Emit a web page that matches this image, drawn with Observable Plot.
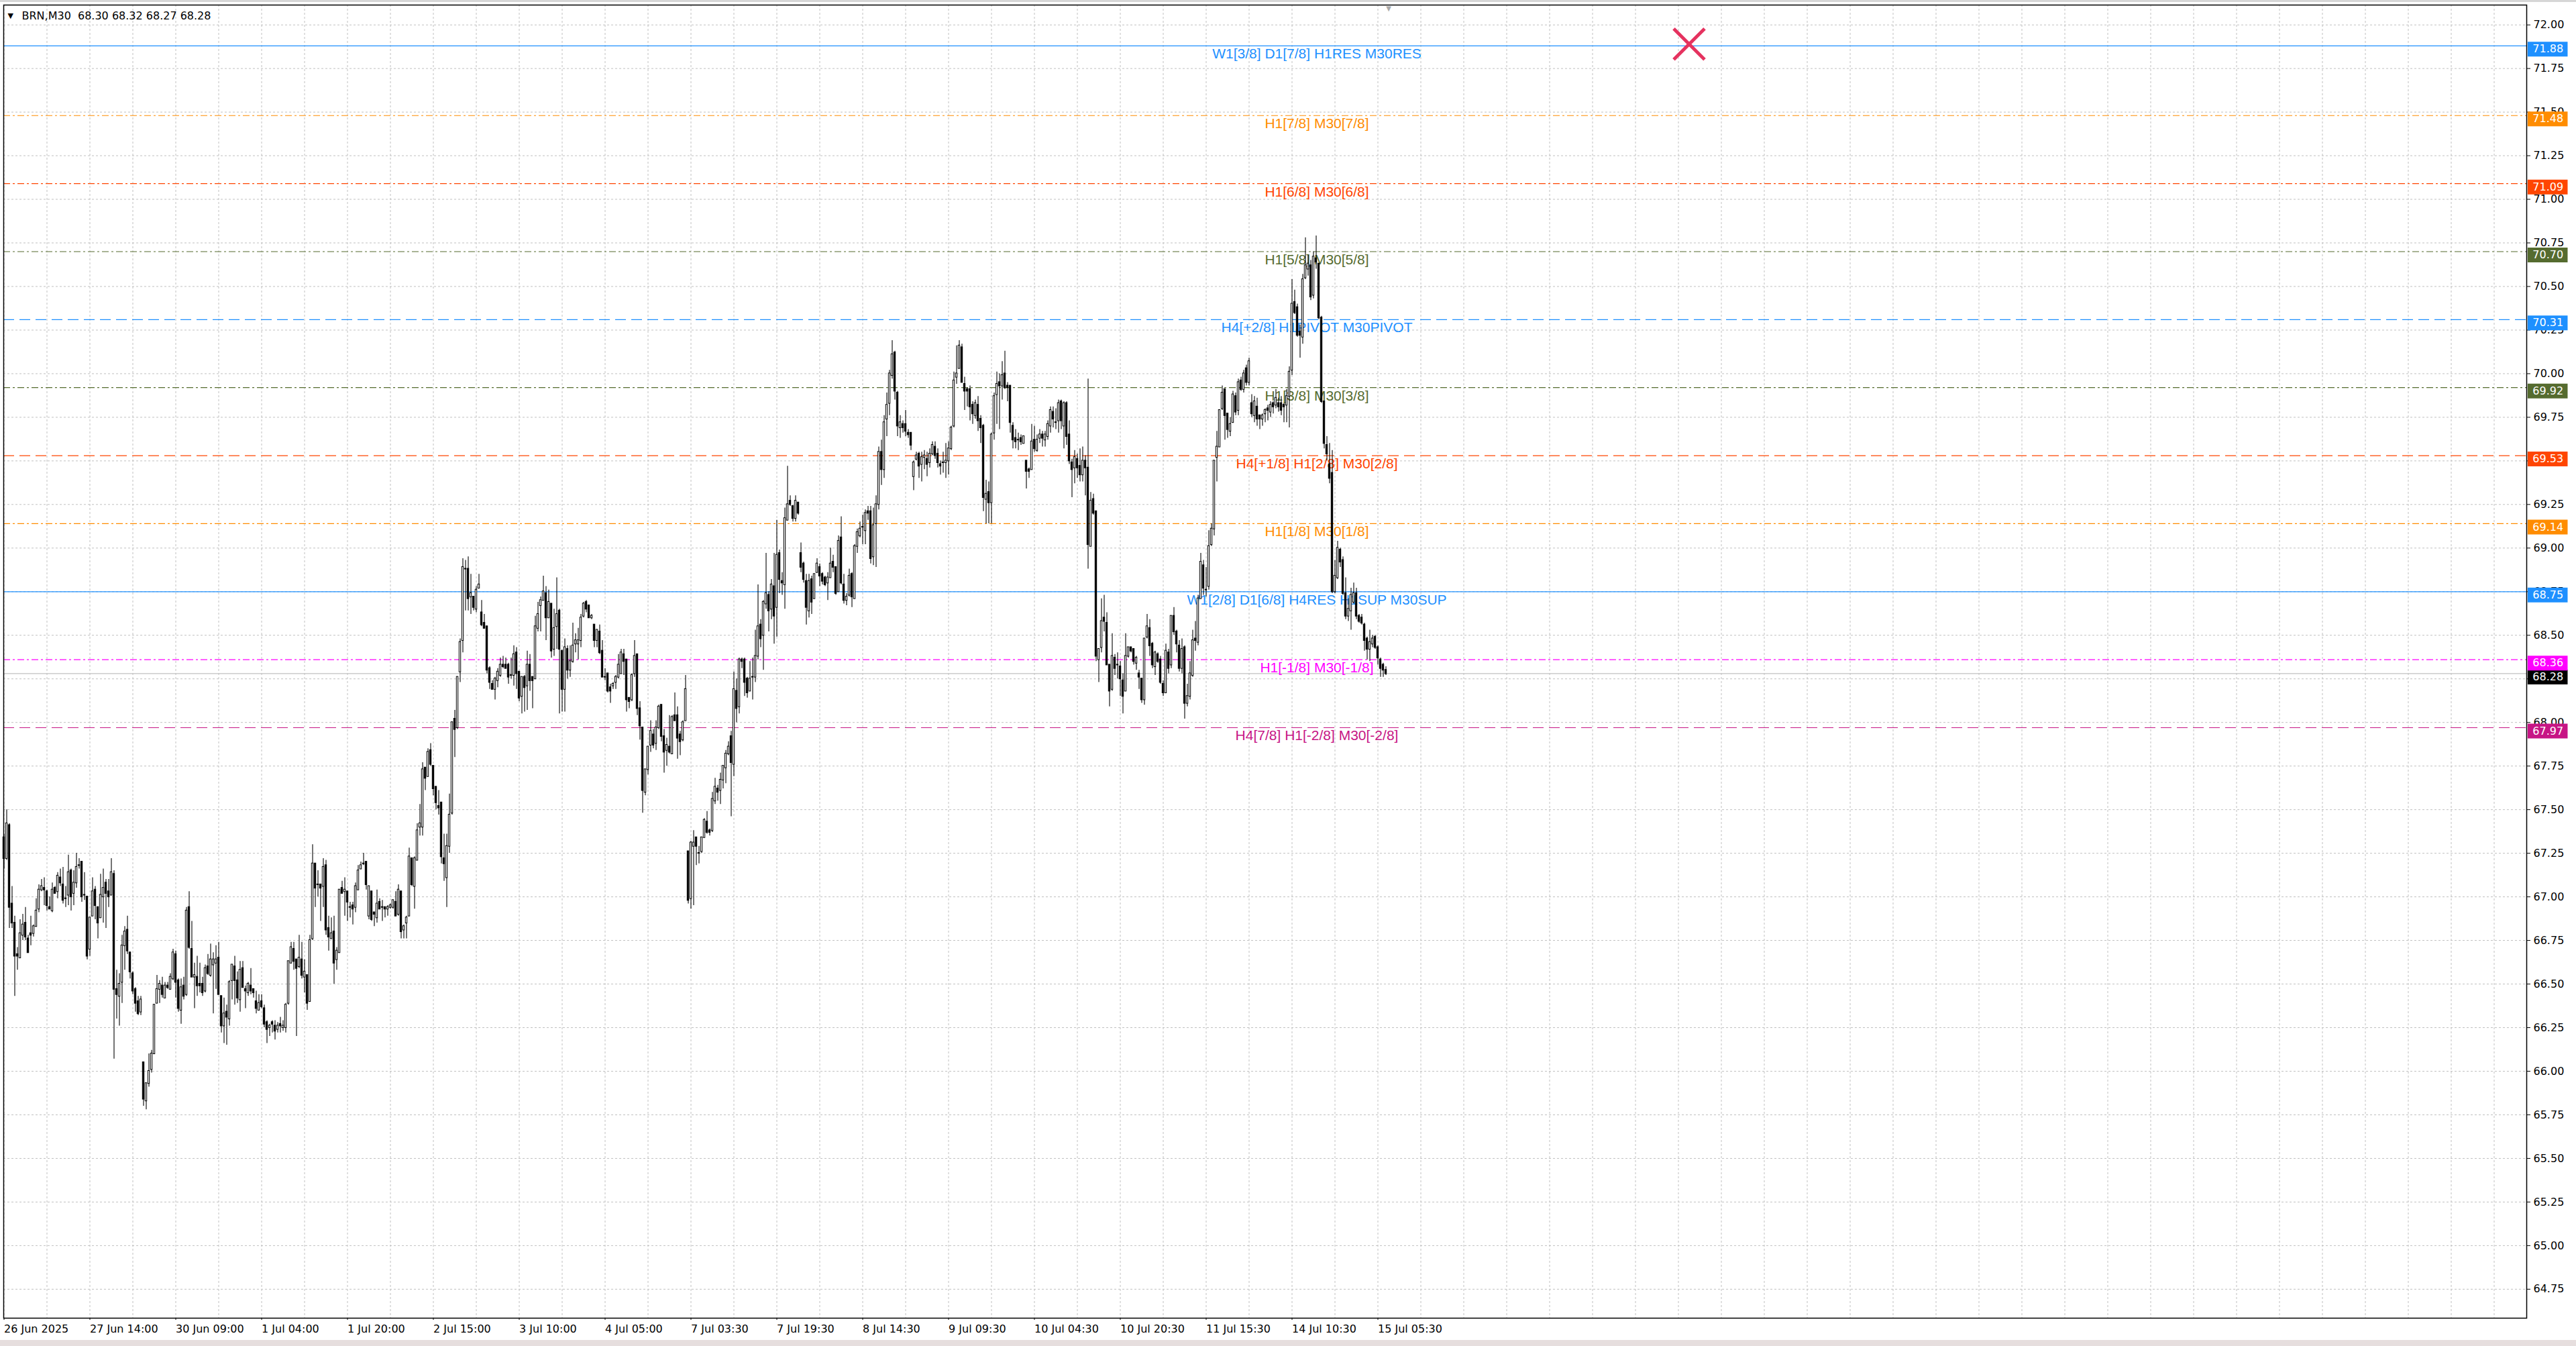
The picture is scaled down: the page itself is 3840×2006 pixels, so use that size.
<!DOCTYPE html>
<html lang="en">
<head>
<meta charset="UTF-8">
<title>BRN,M30</title>
<script src="https://cdn.jsdelivr.net/npm/d3@7"></script>
<script src="https://cdn.jsdelivr.net/npm/@observablehq/plot@0.6"></script>
<style>
  html, body { margin: 0; padding: 0; background: #fff; overflow: hidden; }
  #topbar { height: 3px; background: #d6d6d6; }
  #bottombar { height: 9px; background: #e6dede; }
  #chart svg { display: block; }
</style>
</head>
<body>
<div id="topbar"></div>
<div id="chart"></div>
<div id="bottombar"></div>
<script>
// BRN M30 bars (bar 0 = 26 Jun, bar 515 = 15 Jul 05:30)
const symbol = "BRN,M30";

const open = [
  67.34,67.22,67.41,66.96,66.85,66.67,66.65,66.78,66.85,66.76, // 0
  66.79,66.79,66.83,66.93,67.04,67.05,67.03,66.94,66.92,67.05,
  67.03,67.11,67.07,66.99,67.01,67.15,67.02,67.08,67.18,67.20,
  67.01,67.00,66.70,66.89,67.04,66.94,66.88,67.00,67.08,67.03,
  67.01,67.13,66.47,66.43,66.51,66.72,66.81,66.68,66.56,66.47,
  66.40,66.34,66.05,65.83,65.93,66.01,66.10,66.39,66.47,66.49, // 50
  66.42,66.49,66.47,66.53,66.67,66.52,66.35,66.49,66.44,66.94,
  66.70,66.54,66.54,66.50,66.50,66.46,66.60,66.55,66.61,66.62,
  66.65,66.43,66.26,66.34,66.30,66.52,66.60,66.52,66.41,66.59,
  66.47,66.45,66.49,66.47,66.40,66.35,66.40,66.36,66.28,66.25,
  66.28,66.26,66.24,66.27,66.25,66.25,66.39,66.62,66.70,66.64, // 100
  66.60,66.64,66.54,66.55,66.40,66.76,67.19,67.07,67.07,67.06,
  67.18,66.82,66.76,66.80,66.64,66.68,67.05,67.03,67.03,66.94,
  66.95,66.94,67.04,67.16,67.19,67.20,66.89,67.03,66.91,66.88,
  66.97,66.94,66.94,66.93,66.94,66.94,66.97,66.90,67.03,66.81,
  66.85,66.89,67.22,67.06,67.21,67.40,67.40,67.74,67.69,67.84, // 150
  67.75,67.63,67.52,67.54,67.22,67.11,67.29,67.48,68.02,67.97,
  68.29,68.47,68.88,68.88,68.72,68.72,68.65,68.77,68.63,68.57,
  68.55,68.31,68.22,68.19,68.24,68.27,68.33,68.33,68.33,68.27,
  68.27,68.40,68.29,68.15,68.26,68.21,68.33,68.26,68.25,68.54,
  68.67,68.70,68.74,68.60,68.68,68.42,68.55,68.64,68.41,68.19, // 200
  68.42,68.30,68.35,68.45,68.45,68.47,68.61,68.69,68.67,68.60,
  68.56,68.47,68.52,68.41,68.26,68.28,68.20,68.21,68.23,68.26,
  68.28,68.39,68.36,68.14,68.13,68.28,68.39,68.08,67.97,67.60,
  67.73,67.87,67.93,67.88,67.97,68.10,67.92,67.84,67.86,67.82,
  68.04,68.04,67.93,67.90,68.01,67.26,66.99,67.29,67.34,67.25, // 250
  67.26,67.34,67.43,67.38,67.38,67.55,67.62,67.61,67.67,67.74,
  67.82,67.92,67.76,68.18,68.09,68.36,68.36,68.25,68.18,68.26,
  68.26,68.38,68.56,68.50,68.68,68.73,68.65,68.78,68.66,68.97,
  68.81,68.79,69.16,69.27,69.24,69.17,69.26,68.97,68.91,68.81,
  68.64,68.82,68.71,68.86,68.89,68.85,68.83,68.80,68.83,68.92, // 300
  68.89,68.75,69.06,68.79,68.70,68.73,68.85,68.71,69.01,69.07,
  69.12,69.10,69.21,69.21,68.95,69.14,69.25,69.55,69.45,69.74,
  69.83,69.99,70.12,69.89,69.69,69.71,69.71,69.66,69.66,69.41,
  69.51,69.54,69.48,69.52,69.51,69.49,69.54,69.58,69.54,69.48,
  69.49,69.49,69.50,69.57,69.70,69.98,70.03,70.15,69.94,69.91, // 350
  69.91,69.82,69.76,69.82,69.74,69.70,69.28,69.32,69.26,69.66,
  69.88,69.95,69.93,70.00,69.93,69.93,69.70,69.63,69.62,69.63,
  69.60,69.50,69.45,69.45,69.62,69.56,69.63,69.65,69.62,69.64,
  69.70,69.78,69.72,69.73,69.84,69.70,69.83,69.65,69.49,69.46,
  69.51,69.47,69.42,69.50,69.46,69.01,69.28,69.21,68.36,68.43, // 400
  68.60,68.57,68.33,68.19,68.37,68.33,68.32,68.24,68.18,68.38,
  68.43,68.42,68.34,68.28,68.25,68.13,68.49,68.54,68.45,68.32,
  68.39,68.36,68.22,68.17,68.40,68.33,68.61,68.52,68.44,68.31,
  68.43,68.11,68.15,68.27,68.48,68.46,68.71,68.90,68.76,68.78,
  69.02,69.11,69.52,69.58,69.80,69.91,69.77,69.67,69.72,69.87, // 450
  69.79,69.96,69.91,70.03,69.95,69.83,69.76,69.81,69.76,69.74,
  69.77,69.80,69.78,69.83,69.82,69.83,69.83,69.82,69.82,69.87,
  70.02,70.41,70.38,70.24,70.21,70.55,70.60,70.62,70.45,70.66,
  70.63,70.32,69.84,69.59,69.48,69.43,68.75,68.83,68.99,68.93,
  68.74,68.61,68.64,68.69,68.74,68.61,68.60,68.56,68.48,68.42, // 500
  68.45,68.49,68.43,68.36,68.33,68.30
];

const high = [
  67.36,67.50,67.42,67.06,66.89,66.71,66.87,66.90,66.94,66.78,
  66.89,66.84,66.99,67.07,67.10,67.11,67.04,67.00,67.08,67.06,
  67.14,67.16,67.17,67.06,67.24,67.16,67.15,67.25,67.22,67.20,
  67.14,67.00,66.88,67.11,67.06,66.94,67.13,67.16,67.10,67.10,
  67.22,67.15,66.58,66.56,66.78,66.83,66.89,66.68,66.57,66.48,
  66.43,66.43,66.05,65.93,66.10,66.12,66.38,66.55,66.52,66.54,
  66.51,66.51,66.56,66.70,66.69,66.53,66.53,66.54,66.94,67.03,
  66.86,66.62,66.66,66.62,66.54,66.61,66.67,66.73,66.68,66.72,
  66.74,66.43,66.42,66.38,66.52,66.61,66.66,66.57,66.63,66.63,
  66.49,66.51,66.59,66.47,66.46,66.44,66.44,66.38,66.29,66.27,
  66.29,66.29,66.28,66.31,66.29,66.39,66.63,66.74,66.74,66.64,
  66.78,66.74,66.64,66.55,66.78,67.30,67.19,67.15,67.07,67.22,
  67.21,66.89,66.88,66.89,66.71,67.04,67.09,67.11,67.03,66.97,
  66.97,67.08,67.18,67.20,67.25,67.20,67.06,67.03,66.91,67.04,
  66.99,66.98,66.94,66.95,66.96,66.98,67.03,67.07,67.03,66.84,
  66.89,67.28,67.22,67.23,67.42,67.53,67.77,67.74,67.85,67.88,
  67.75,67.63,67.61,67.54,67.36,67.36,67.59,68.00,68.07,68.26,
  68.48,68.94,68.93,68.95,68.85,68.72,68.78,68.85,68.70,68.62,
  68.55,68.32,68.24,68.26,68.31,68.37,68.38,68.37,68.34,68.37,
  68.44,68.43,68.29,68.26,68.27,68.41,68.39,68.26,68.61,68.69,
  68.72,68.84,68.78,68.76,68.68,68.65,68.83,68.65,68.41,68.48,
  68.44,68.44,68.57,68.51,68.54,68.62,68.69,68.70,68.67,68.62,
  68.56,68.53,68.56,68.47,68.31,68.28,68.22,68.23,68.27,68.39,
  68.42,68.42,68.36,68.14,68.28,68.47,68.39,68.12,67.97,67.73,
  67.86,68.01,67.96,68.01,68.10,68.10,67.96,67.91,68.04,68.04,
  68.17,68.09,67.95,68.01,68.27,67.26,67.32,67.38,67.34,67.29,
  67.34,67.45,67.49,67.39,67.60,67.68,67.64,67.71,67.75,67.84,
  67.89,67.95,68.29,68.25,68.37,68.37,68.37,68.26,68.35,68.37,
  68.53,68.79,68.59,68.70,68.97,68.75,68.82,68.97,69.16,68.99,
  68.86,69.23,69.47,69.30,69.24,69.30,69.26,69.03,68.92,68.85,
  68.85,68.84,68.85,68.94,68.91,68.86,68.84,68.86,69.00,68.96,
  68.89,69.07,69.18,68.85,68.74,68.88,68.86,69.02,69.11,69.15,
  69.19,69.22,69.24,69.24,69.23,69.30,69.58,69.62,69.76,69.89,
  70.02,70.19,70.13,69.90,69.76,69.73,69.79,69.68,69.66,69.50,
  69.55,69.55,69.55,69.56,69.55,69.57,69.61,69.61,69.57,69.50,
  69.55,69.60,69.61,69.70,70.01,70.16,70.19,70.17,69.98,69.92,
  69.93,69.84,69.85,69.87,69.76,69.71,69.39,69.38,69.66,69.89,
  70.01,70.00,70.07,70.13,69.95,69.93,69.72,69.68,69.66,69.65,
  69.64,69.50,69.46,69.71,69.70,69.65,69.68,69.67,69.67,69.73,
  69.81,69.81,69.80,69.85,69.85,69.84,69.84,69.73,69.51,69.56,
  69.54,69.57,69.58,69.53,69.97,69.32,69.31,69.21,68.42,68.71,
  68.73,68.63,68.33,68.51,68.39,68.40,68.35,68.28,68.51,68.43,
  68.43,68.42,68.38,68.30,68.25,68.48,68.62,68.59,68.46,68.41,
  68.40,68.38,68.24,68.45,68.42,68.61,68.66,68.53,68.47,68.48,
  68.44,68.22,68.35,68.53,68.58,68.73,68.97,68.93,68.89,69.10,
  69.14,69.50,69.67,69.79,69.93,69.91,69.77,69.75,69.90,69.89,
  69.97,69.98,70.02,70.05,70.09,69.88,69.87,69.86,69.76,69.77,
  69.80,69.82,69.84,69.84,69.91,69.86,69.87,69.83,69.91,70.04,
  70.54,70.48,70.40,70.28,70.57,70.78,70.68,70.65,70.70,70.79,
  70.63,70.33,69.84,69.64,69.60,69.56,68.93,69.04,69.00,68.95,
  68.83,68.71,68.77,68.80,68.77,68.62,68.62,68.57,68.49,68.53,
  68.50,68.50,68.44,68.37,68.34,68.32
];

const low = [
  67.16,67.21,66.82,66.82,66.43,66.58,66.65,66.75,66.75,66.68,
  66.72,66.77,66.83,66.91,67.03,66.95,66.92,66.93,66.91,67.02,
  66.99,67.06,66.96,66.94,66.95,66.92,66.95,67.05,67.16,66.97,
  66.98,66.64,66.66,66.89,66.87,66.76,66.88,66.85,66.82,66.94,
  67.01,66.07,66.30,66.26,66.39,66.58,66.67,66.53,66.44,66.34,
  66.32,66.32,65.80,65.78,65.91,65.99,66.10,66.39,66.39,66.42,
  66.42,66.47,66.47,66.52,66.42,66.34,66.27,66.41,66.43,66.70,
  66.54,66.36,66.43,66.45,66.43,66.45,66.55,66.54,66.33,66.47,
  66.44,66.22,66.16,66.15,66.26,66.41,66.38,66.39,66.34,66.48,
  66.36,66.43,66.44,66.42,66.33,66.35,66.36,66.25,66.16,66.20,
  66.22,66.18,66.22,66.22,66.23,66.22,66.38,66.62,66.58,66.20,
  66.59,66.53,66.45,66.35,66.40,66.75,66.94,67.00,66.86,66.94,
  66.78,66.69,66.76,66.50,66.58,66.68,67.02,66.89,66.86,66.88,
  66.84,66.91,67.04,67.16,67.18,67.04,66.87,66.86,66.83,66.85,
  66.93,66.86,66.88,66.89,66.93,66.93,66.89,66.89,66.76,66.76,
  66.76,66.89,67.06,66.93,67.21,67.35,67.35,67.61,67.69,67.75,
  67.58,67.50,67.47,67.19,67.09,66.94,67.25,67.47,67.80,67.96,
  68.23,68.40,68.64,68.64,68.62,68.64,68.63,68.77,68.55,68.54,
  68.28,68.19,68.19,68.13,68.20,68.26,68.31,68.31,68.22,68.25,
  68.21,68.19,68.12,68.05,68.06,68.07,68.18,68.08,68.25,68.52,
  68.52,68.70,68.47,68.60,68.37,68.38,68.42,68.05,68.06,68.06,
  68.25,68.26,68.34,68.40,68.36,68.43,68.60,68.63,68.60,68.59,
  68.43,68.43,68.39,68.26,68.24,68.17,68.11,68.19,68.19,68.25,
  68.28,68.27,68.06,68.08,68.12,68.26,68.04,67.90,67.48,67.58,
  67.70,67.83,67.85,67.84,67.96,67.89,67.71,67.75,67.82,67.82,
  68.01,67.79,67.81,67.89,68.01,66.96,66.93,66.95,67.18,67.19,
  67.25,67.34,67.36,67.35,67.37,67.53,67.55,67.53,67.62,67.65,
  67.81,67.46,67.69,68.00,68.05,68.31,68.15,68.14,68.18,68.13,
  68.23,68.36,68.43,68.30,68.65,68.52,68.59,68.45,68.49,68.74,
  68.73,68.65,69.16,69.24,69.15,69.15,69.19,68.86,68.80,68.56,
  68.60,68.62,68.71,68.86,68.78,68.79,68.78,68.70,68.83,68.86,
  68.73,68.75,68.79,68.68,68.67,68.72,68.66,68.71,68.97,69.06,
  69.02,69.02,69.16,68.91,68.90,68.89,69.22,69.36,69.40,69.64,
  69.76,69.97,69.85,69.64,69.63,69.66,69.64,69.63,69.56,69.33,
  69.50,69.40,69.38,69.45,69.41,69.46,69.53,69.51,69.46,69.42,
  69.43,69.40,69.42,69.56,69.69,69.94,70.03,69.95,69.79,69.81,
  69.73,69.71,69.74,69.67,69.60,69.21,69.14,69.14,69.14,69.62,
  69.71,69.68,69.85,69.91,69.84,69.66,69.57,69.57,69.56,69.59,
  69.60,69.34,69.40,69.45,69.55,69.55,69.60,69.58,69.58,69.62,
  69.66,69.69,69.68,69.66,69.68,69.57,69.59,69.48,69.29,69.37,
  69.40,69.38,69.38,69.30,68.88,69.01,69.19,68.35,68.23,68.40,
  68.52,68.33,68.09,68.18,68.27,68.25,68.15,68.05,68.18,68.37,
  68.40,68.33,68.30,68.19,68.11,68.10,68.48,68.38,68.31,68.27,
  68.34,68.22,68.15,68.17,68.28,68.31,68.50,68.40,68.29,68.28,
  68.02,68.09,68.13,68.26,68.41,68.44,68.71,68.73,68.72,68.76,
  69.01,69.07,69.38,69.58,69.79,69.62,69.63,69.64,69.72,69.76,
  69.76,69.90,69.89,69.93,69.93,69.75,69.72,69.70,69.68,69.70,
  69.72,69.73,69.75,69.77,69.80,69.78,69.76,69.72,69.72,69.69,
  69.99,70.34,70.21,70.09,70.17,70.54,70.56,70.42,70.43,70.60,
  70.31,69.83,69.57,69.50,69.37,68.74,68.74,68.82,68.89,68.73,
  68.59,68.58,68.53,68.68,68.59,68.57,68.56,68.41,68.36,68.35,
  68.43,68.42,68.33,68.26,68.26,68.27
];

const close = [
  67.22,67.42,66.94,66.85,66.66,66.66,66.79,66.84,66.77,66.68,
  66.78,66.83,66.92,67.04,67.06,67.04,66.95,66.93,67.04,67.02,
  67.12,67.08,66.98,66.99,67.14,67.00,67.08,67.17,67.18,67.00,
  67.01,66.66,66.88,67.03,66.95,66.85,67.01,67.05,67.02,67.00,
  67.14,66.47,66.44,66.50,66.72,66.80,66.69,66.57,66.46,66.39,
  66.33,66.41,65.84,65.93,66.00,66.10,66.38,66.47,66.50,66.44,
  66.49,66.48,66.54,66.68,66.51,66.36,66.48,66.43,66.92,66.71,
  66.54,66.55,66.49,66.49,66.45,66.59,66.56,66.64,66.64,66.64,
  66.44,66.26,66.33,66.31,66.51,66.61,66.52,66.42,66.58,66.48,
  66.46,66.50,66.46,66.45,66.36,66.39,66.37,66.27,66.24,66.26,
  66.27,66.23,66.26,66.26,66.26,66.38,66.63,66.71,66.63,66.59,
  66.65,66.55,66.57,66.39,66.75,67.19,67.05,67.07,67.05,67.17,
  66.81,66.77,66.79,66.62,66.69,67.04,67.02,67.04,66.97,66.94,
  66.93,67.06,67.15,67.18,67.19,67.07,67.06,66.87,66.90,66.96,
  66.93,66.94,66.93,66.94,66.95,66.98,66.89,67.04,66.80,66.83,
  66.88,67.23,67.07,67.22,67.38,67.42,67.73,67.68,67.83,67.76,
  67.62,67.54,67.51,67.23,67.19,67.29,67.47,68.00,67.96,68.26,
  68.46,68.89,68.88,68.71,68.74,68.66,68.76,68.79,68.56,68.54,
  68.30,68.23,68.19,68.25,68.29,68.33,68.32,68.31,68.26,68.27,
  68.39,68.28,68.14,68.26,68.20,68.33,68.24,68.24,68.55,68.62,
  68.70,68.75,68.60,68.69,68.41,68.54,68.62,68.42,68.19,68.43,
  68.30,68.35,68.44,68.47,68.47,68.60,68.68,68.65,68.60,68.61,
  68.47,68.53,68.40,68.26,68.26,68.18,68.18,68.22,68.26,68.33,
  68.40,68.35,68.13,68.12,68.27,68.38,68.08,67.98,67.61,67.73,
  67.86,67.95,67.87,67.97,68.09,67.92,67.83,67.87,67.83,68.03,
  68.01,67.91,67.89,68.00,68.19,66.98,67.31,67.31,67.29,67.25,
  67.34,67.44,67.37,67.37,67.56,67.63,67.60,67.67,67.75,67.82,
  67.86,67.77,68.19,68.08,68.36,68.35,68.23,68.17,68.25,68.26,
  68.38,68.55,68.48,68.69,68.74,68.64,68.79,68.61,68.96,68.82,
  68.80,69.17,69.25,69.25,69.17,69.27,69.20,68.89,68.82,68.66,
  68.81,68.69,68.85,68.91,68.84,68.81,68.79,68.83,68.91,68.89,
  68.74,69.04,68.80,68.70,68.72,68.84,68.72,69.01,69.09,69.11,
  69.12,69.20,69.20,68.94,69.13,69.25,69.55,69.45,69.72,69.82,
  70.00,70.11,69.90,69.70,69.72,69.69,69.67,69.65,69.59,69.49,
  69.53,69.47,69.52,69.53,69.48,69.54,69.59,69.53,69.49,69.47,
  69.49,69.50,69.57,69.69,69.96,70.00,70.16,69.95,69.90,69.90,
  69.81,69.77,69.83,69.73,69.69,69.29,69.31,69.26,69.65,69.87,
  69.94,69.93,69.99,69.92,69.92,69.72,69.62,69.61,69.62,69.61,
  69.64,69.44,69.44,69.61,69.57,69.62,69.65,69.63,69.65,69.71,
  69.79,69.74,69.72,69.83,69.73,69.83,69.64,69.50,69.45,69.52,
  69.46,69.42,69.50,69.46,69.02,69.27,69.20,68.38,68.42,68.58,
  68.58,68.33,68.18,68.38,68.31,68.33,68.25,68.15,68.38,68.43,
  68.41,68.35,68.37,68.26,68.13,68.48,68.55,68.44,68.33,68.40,
  68.35,68.23,68.17,68.41,68.31,68.61,68.52,68.45,68.31,68.42,
  68.11,68.15,68.28,68.47,68.47,68.71,68.92,68.77,68.76,69.01,
  69.11,69.50,69.58,69.79,69.89,69.76,69.68,69.71,69.88,69.78,
  69.95,69.91,70.00,69.95,70.07,69.77,69.84,69.74,69.74,69.76,
  69.79,69.79,69.82,69.81,69.86,69.81,69.79,69.81,69.87,70.01,
  70.40,70.35,70.22,70.22,70.54,70.62,70.63,70.44,70.67,70.64,
  70.32,69.84,69.60,69.54,69.40,68.75,68.84,69.00,68.92,68.74,
  68.61,68.65,68.73,68.74,68.61,68.58,68.57,68.47,68.42,68.46,
  68.48,68.43,68.37,68.31,68.30,68.28
];

// time axis: one label every 32 bars
const timeLabels = [
  "26 Jun 2025", "27 Jun 14:00", "30 Jun 09:00", "1 Jul 04:00", "1 Jul 20:00",
  "2 Jul 15:00", "3 Jul 10:00", "4 Jul 05:00", "7 Jul 03:30", "7 Jul 19:30",
  "8 Jul 14:30", "9 Jul 09:30", "10 Jul 04:30", "10 Jul 20:30", "11 Jul 15:30",
  "14 Jul 10:30", "15 Jul 05:30"
];
const timeTickBars = [0, 32, 64, 96, 128, 160, 192, 224, 256, 288, 320, 352, 384, 416, 448, 480, 512];

const priceTicks = [
  64.75, 65.00, 65.25, 65.50, 65.75, 66.00, 66.25, 66.50, 66.75, 67.00,
  67.25, 67.50, 67.75, 68.00, 68.25, 68.50, 68.75, 69.00, 69.25, 69.50,
  69.75, 70.00, 70.25, 70.50, 70.75, 71.00, 71.25, 71.50, 71.75, 72.00
];

// Murrey-style levels drawn by the indicator
const levelPrices = [71.88, 71.48, 71.09, 70.70, 70.31, 69.92, 69.53, 69.14, 68.75, 68.36, 67.97];
const levelNames = [
  "W1[3/8] D1[7/8] H1RES M30RES",
  "H1[7/8] M30[7/8]",
  "H1[6/8] M30[6/8]",
  "H1[5/8] M30[5/8]",
  "H4[+2/8] H1PIVOT M30PIVOT",
  "H1[3/8] M30[3/8]",
  "H4[+1/8] H1[2/8] M30[2/8]",
  "H1[1/8] M30[1/8]",
  "W1[2/8] D1[6/8] H4RES H1SUP M30SUP",
  "H1[-1/8] M30[-1/8]",
  "H4[7/8] H1[-2/8] M30[-2/8]"
];

// red cross object on the chart
const crossMark = [{bar: 628, price: 71.89}];

// ---- styling (kept apart from the data) ----
const levelColors = ["#1e90ff", "#ff8c00", "#ff4500", "#556b2f", "#1e90ff", "#556b2f",
                     "#ff4500", "#ff8c00", "#1e90ff", "#ff00ff", "#c71585"];
const levelDash = ["solid", "dashdot", "dashdot", "dashdot", "dashed", "dashdot",
                   "dashed", "dashdot", "solid", "dashdot", "dashed"];
const dashes = {solid: null, dashdot: "10,4,3,4", dashed: "16,8"};

const bars = open.map((o, i) => ({i, o, h: high[i], l: low[i], c: close[i]}));
const last = bars[bars.length - 1];
const levels = levelPrices.map((p, k) => ({price: p, name: levelNames[k], color: levelColors[k], dash: levelDash[k]}));
const tags = [{price: last.c, color: "#000000"}, ...levels];

const headerText = `${symbol}  ${last.o.toFixed(2)} ${last.h.toFixed(2)} ${last.l.toFixed(2)} ${last.c.toFixed(2)}`;
const fontAxis = "'DejaVu Sans', Verdana, sans-serif";
const fontLabel = "'Liberation Sans', Arial, sans-serif";

const labelBar = 489.25;          // where the indicator centres its captions
const tagX1 = 940.6, tagX2 = 955.5; // price tag box, right of the frame

const chart = Plot.plot({
  width: 3840,
  height: 1994,
  marginLeft: 5,
  marginRight: 74,
  marginTop: 4,
  marginBottom: 33,
  x: {domain: [-0.125, 940.125]},
  y: {domain: [64.584, 72.114]},
  style: {background: "white", fontFamily: fontAxis, fontSize: "16px", color: "black", overflow: "visible"},
  marks: [
    Plot.gridY({ticks: priceTicks, stroke: "#c0c0c0", strokeOpacity: 1, strokeDasharray: "3,3"}),
    Plot.gridX({ticks: d3.range(0, 941, 16), stroke: "#c0c0c0", strokeOpacity: 1, strokeDasharray: "3,3"}),

    // level lines
    ...Object.keys(dashes).map(kind =>
      Plot.ruleY(levels.filter(d => d.dash === kind), {
        y: "price", stroke: "color", strokeWidth: 1.2,
        strokeDasharray: dashes[kind]
      })),
    // bid line
    Plot.ruleY([last.c], {stroke: "#c0c0c0", strokeWidth: 1.2}),

    // captions
    Plot.text(levels, {
      x: () => labelBar, y: "price", text: "name", fill: "color",
      fontFamily: fontLabel, fontSize: 21, lineAnchor: "top", dy: 4
    }),

    // candles
    Plot.ruleX(bars, {x: "i", y1: "l", y2: "h", stroke: "black", strokeWidth: 1.1}),
    Plot.rect(bars, {
      x1: d => d.i - 0.3, x2: d => d.i + 0.3, y1: "o", y2: "c",
      fill: d => d.c > d.o ? "white" : "black",
      stroke: "black", strokeWidth: 1,
      insetTop: -0.5, insetBottom: -0.5
    }),

    // cross object
    Plot.dot(crossMark, {x: "bar", y: "price", symbol: "times", r: 21, stroke: "#e5325f", strokeWidth: 5}),

    // shift marker at top
    Plot.text([bars.length], {x: d => d, frameAnchor: "top", text: () => "\u25BC", fill: "#a8a8a8", fontSize: 10, lineAnchor: "top", dy: 1}),

    // axes
    Plot.axisY({
      anchor: "right", ticks: priceTicks, tickFormat: d => d.toFixed(2),
      tickSize: 5, tickPadding: 5, fontSize: 16, label: null
    }),
    Plot.axisX({
      anchor: "bottom", ticks: timeTickBars, tickFormat: d => timeLabels[d / 32],
      tickSize: 3, tickPadding: 7, textAnchor: "start", fontSize: 16, label: null
    }),
    Plot.frame({stroke: "black", strokeWidth: 1.5}),

    // price tags on the right
    Plot.ruleY(tags, {y: "price", x1: () => tagX1, x2: () => tagX2, stroke: "color", strokeWidth: 22, dy: 5}),
    Plot.text(tags, {
      x: () => (tagX1 + tagX2) / 2, y: "price", text: d => d.price.toFixed(2),
      fill: "white", fontSize: 16, dy: 5
    }),

    // header
    Plot.text(["\u25BC"], {frameAnchor: "top-left", dx: 6, dy: 12, fontSize: 11, textAnchor: "start", lineAnchor: "top", fill: "black"}),
    Plot.text([headerText], {frameAnchor: "top-left", dx: 27, dy: 10, fontSize: 16, textAnchor: "start", lineAnchor: "top", fill: "black"})
  ]
});

document.getElementById("chart").append(chart);
</script>
</body>
</html>
